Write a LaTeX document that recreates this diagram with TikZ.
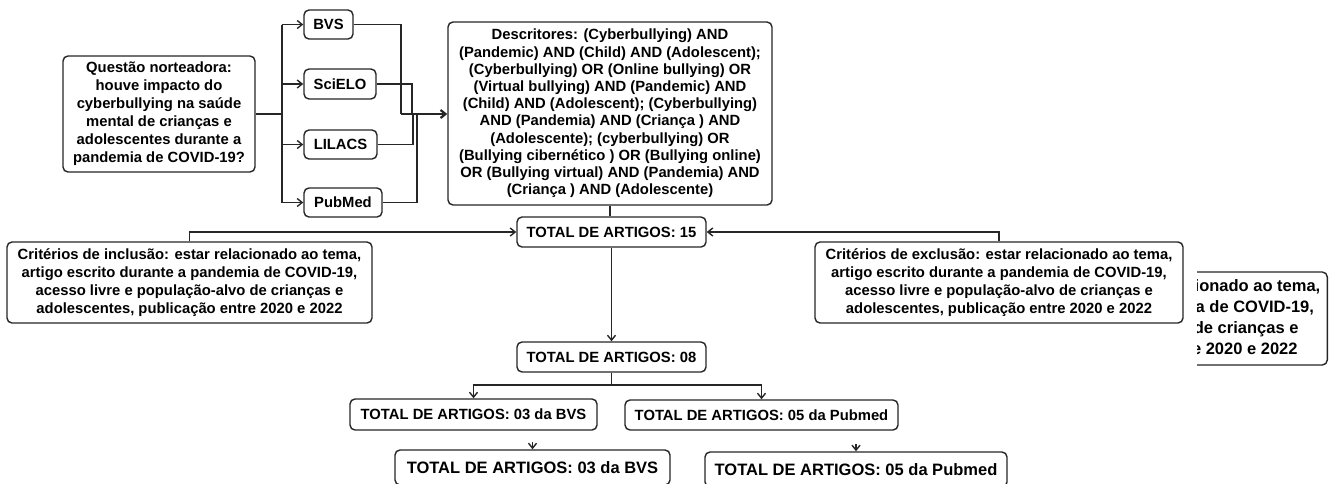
\documentclass[tikz,border=0pt]{standalone}
\usepackage{fontspec}
\setmainfont{Liberation Sans}
\usetikzlibrary{arrows.meta}

\begin{document}
\begin{tikzpicture}[x=1pt, y=-1pt,
	box/.style={draw=black!85, line width=1.4pt, rounded corners=5pt, fill=white, align=center, inner sep=0pt, font=\fontsize{14.8}{18}\selectfont\bfseries},
	conn/.style={draw=black!85, line width=1.4pt},
	arr/.style={conn, -{Straight Barb[length=5pt, width=8pt]}},
	trunk/.style={conn, line width=2.2pt}]
	\useasboundingbox (0,0) rectangle (1333,483);

	% --- QUESTION AND DATABASES ---
	\node[box, minimum width=192pt, minimum height=116pt] (quest) at (159,114) {Questão norteadora:\\houve impacto do\\cyberbullying na saúde\\mental de crianças e\\adolescentes durante a\\pandemia de COVID-19?};
	\node[box, minimum width=49pt, minimum height=29pt] (bvs) at (328.5,24.5) {BVS};
	\node[box, minimum width=72pt, minimum height=30pt] (scielo) at (340,84) {SciELO};
	\node[box, minimum width=73pt, minimum height=29pt] (lilacs) at (340.5,144.5) {LILACS};
	\node[box, minimum width=78pt, minimum height=29pt] (pubmed) at (343,202.5) {PubMed};

	% Fork to the databases
	\coordinate (qfork) at (282,114);
	\draw[trunk] (quest.east) -- (qfork);
	\draw[trunk] (qfork |- bvs.west) -- (qfork |- pubmed.west);
	\foreach \db in {bvs,scielo,lilacs,pubmed}
		\draw[arr] (qfork |- \db.west) -- (\db.west);

	% --- DESCRIPTORS ---
	\node[box, minimum width=324pt, minimum height=183pt, font=\fontsize{14.8}{17.2}\selectfont\bfseries] (desc) at (610,113.5) {Descritores: (Cyberbullying) AND\\(Pandemic) AND (Child) AND (Adolescent);\\(Cyberbullying) OR (Online bullying) OR\\(Virtual bullying) AND (Pandemic) AND\\(Child) AND (Adolescent); (Cyberbullying)\\AND (Pandemia) AND (Criança ) AND\\(Adolescente); (cyberbullying) OR\\(Bullying cibernético ) OR (Bullying online)\\OR (Bullying virtual) AND (Pandemia) AND\\(Criança ) AND (Adolescente)};

	% Databases join into the descriptors
	\coordinate (merge) at (401,114);
	\foreach \db/\dx in {bvs/0,scielo/11,lilacs/12,pubmed/16}
		\draw[conn] (\db.east) -| ([xshift=\dx pt]merge);
	\draw[trunk, -{Straight Barb[length=5pt, width=8pt]}] (merge) -- (merge -| desc.west);

	% --- SCREENING ---
	\node[box, minimum width=189pt, minimum height=30pt] (t15) at (611.5,232) {TOTAL DE ARTIGOS: 15};
	\node[box, minimum width=365pt, minimum height=81pt] (incl) at (189.5,282.5) {Critérios de inclusão: estar relacionado ao tema,\\artigo escrito durante a pandemia de COVID-19,\\acesso livre e população-alvo de crianças e\\adolescentes, publicação entre 2020 e 2022};
	\node[box, minimum width=368pt, minimum height=81pt] (excl) at (999,282.5) {Critérios de exclusão: estar relacionado ao tema,\\artigo escrito durante a pandemia de COVID-19,\\acesso livre e população-alvo de crianças e\\adolescentes, publicação entre 2020 e 2022};

	% Cut-off copy on the right (hidden heads kept as phantoms)
	\begin{scope}
		\clip (1197,250) rectangle (1340,380);
		\node[box, anchor=east, minimum height=93pt, inner xsep=7pt, font=\fontsize{16.5}{21}\selectfont\bfseries] (exclcopy) at (1328,318.5) {\phantom{Critérios de exclusão: estar relac}ionado ao tema,\\\phantom{artigo escrito durante a pandem}ia de COVID-19,\\\phantom{acesso livre e população-alv}o de crianças e\\\phantom{adolescentes, publicação ent}re 2020 e 2022};
	\end{scope}

	\draw[conn] (desc.south) -- (desc.south |- t15.north);
	\draw[arr] (incl.north) |- (t15.west);
	\draw[arr] (excl.north) |- (t15.east);

	% --- RESULTS ---
	\node[box, minimum width=189pt, minimum height=30pt] (t08) at (611.5,357) {TOTAL DE ARTIGOS: 08};
	\node[box, minimum width=247pt, minimum height=31pt] (bvs3) at (473.5,414.5) {TOTAL DE ARTIGOS: 03 da BVS};
	\node[box, minimum width=273pt, minimum height=30pt] (pub3) at (761.5,415) {TOTAL DE ARTIGOS: 05 da Pubmed};
	\node[box, minimum width=275pt, minimum height=35pt, font=\fontsize{16.5}{20}\selectfont\bfseries] (bvs4) at (532.5,467.5) {TOTAL DE ARTIGOS: 03 da BVS};
	\node[box, minimum width=302pt, minimum height=35pt, font=\fontsize{16.5}{20}\selectfont\bfseries] (pub4) at (856,469.5) {TOTAL DE ARTIGOS: 05 da Pubmed};

	\draw[arr] (t15.south) -- (t08.north);
	\coordinate (split) at (611.5,385);
	\draw[conn] (t08.south) -- (split);
	\draw[arr] (split) -| (bvs3.north);
	\draw[arr] (split) -| (pub3.north);
	\draw[arr] ([yshift=7pt]bvs4.north) -- (bvs4.north);
	\draw[arr] ([yshift=7pt]pub4.north) -- (pub4.north);
\end{tikzpicture}
\end{document}
